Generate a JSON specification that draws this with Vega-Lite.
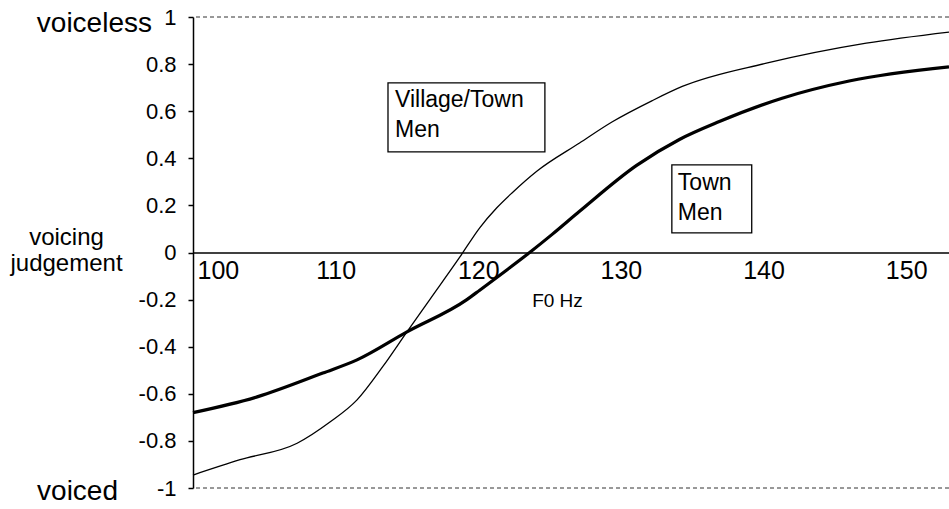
{
  "$schema": "https://vega.github.io/schema/vega-lite/v6.json",
  "width": 756,
  "height": 471,
  "autosize": "none",
  "padding": {"left": 193, "top": 17, "right": 0, "bottom": 21},
  "background": "white",
  "config": {"view": {"stroke": null}, "font": "Liberation Sans"},
  "datasets": {
    "curves": [
      {"series": "Town Men", "F0": 100, "v": -0.68},
      {"series": "Town Men", "F0": 104.5, "v": -0.613},
      {"series": "Town Men", "F0": 109.1, "v": -0.512},
      {"series": "Town Men", "F0": 111.5, "v": -0.456},
      {"series": "Town Men", "F0": 115, "v": -0.337},
      {"series": "Town Men", "F0": 119.2, "v": -0.2},
      {"series": "Town Men", "F0": 120.1, "v": -0.16},
      {"series": "Town Men", "F0": 122, "v": -0.074},
      {"series": "Town Men", "F0": 123.6, "v": 0},
      {"series": "Town Men", "F0": 125.2, "v": 0.078},
      {"series": "Town Men", "F0": 127.1, "v": 0.175},
      {"series": "Town Men", "F0": 131.1, "v": 0.37},
      {"series": "Town Men", "F0": 134.1, "v": 0.48},
      {"series": "Town Men", "F0": 136.9, "v": 0.556},
      {"series": "Town Men", "F0": 141.3, "v": 0.655},
      {"series": "Town Men", "F0": 146, "v": 0.728},
      {"series": "Town Men", "F0": 153, "v": 0.788},
      {"series": "Village/Town Men", "F0": 100, "v": -0.945},
      {"series": "Village/Town Men", "F0": 103.3, "v": -0.88},
      {"series": "Village/Town Men", "F0": 107.3, "v": -0.81},
      {"series": "Village/Town Men", "F0": 109.6, "v": -0.72},
      {"series": "Village/Town Men", "F0": 111.5, "v": -0.626},
      {"series": "Village/Town Men", "F0": 113.3, "v": -0.485},
      {"series": "Village/Town Men", "F0": 115, "v": -0.337},
      {"series": "Village/Town Men", "F0": 116.6, "v": -0.2},
      {"series": "Village/Town Men", "F0": 118.7, "v": -0.02},
      {"series": "Village/Town Men", "F0": 120.1, "v": 0.105},
      {"series": "Village/Town Men", "F0": 121.3, "v": 0.19},
      {"series": "Village/Town Men", "F0": 122.4, "v": 0.255},
      {"series": "Village/Town Men", "F0": 124.1, "v": 0.345},
      {"series": "Village/Town Men", "F0": 127.1, "v": 0.465},
      {"series": "Village/Town Men", "F0": 129.4, "v": 0.555},
      {"series": "Village/Town Men", "F0": 132.2, "v": 0.645},
      {"series": "Village/Town Men", "F0": 134.3, "v": 0.705},
      {"series": "Village/Town Men", "F0": 140.2, "v": 0.804},
      {"series": "Village/Town Men", "F0": 147.2, "v": 0.889},
      {"series": "Village/Town Men", "F0": 153, "v": 0.936}
    ],
    "bounds": [{"v": 1}, {"v": -1}],
    "boxes": [
      {"label": "Village/Town\nMen", "x1": 113.67, "x2": 124.67, "y1": 0.72, "y2": 0.427, "tx": 114.16, "ty": 0.618},
      {"label": "Town\nMen", "x1": 133.57, "x2": 139.17, "y1": 0.372, "y2": 0.083, "tx": 133.99, "ty": 0.265}
    ],
    "ends": [
      {"label": "voiceless", "F0": 100, "v": 1},
      {"label": "voiced", "F0": 100, "v": -1}
    ]
  },
  "layer": [
    {
      "data": {"name": "bounds"},
      "mark": {"type": "rule", "stroke": "#333", "strokeWidth": 1, "strokeDash": [4, 3]},
      "encoding": {
        "y": {"field": "v", "type": "quantitative"}
      }
    },
    {
      "data": {"name": "curves"},
      "mark": {"type": "line", "interpolate": "monotone", "color": "black"},
      "encoding": {
        "x": {
          "field": "F0", "type": "quantitative",
          "scale": {"domain": [100, 153], "nice": false, "zero": false},
          "axis": {
            "orient": "bottom",
            "offset": -235.5,
            "values": [100, 110, 120, 130, 140, 150],
            "domainColor": "black",
            "domainWidth": 1.5,
            "ticks": false,
            "grid": false,
            "labelFontSize": 25,
            "labelColor": "black",
            "labelPadding": 6,
            "labelAlign": {"condition": {"test": "datum.value == 100", "value": "left"}, "value": "center"},
            "labelOffset": {"condition": {"test": "datum.value == 100", "value": 4}, "value": 0},
            "title": "F0 Hz",
            "titleFontSize": 19,
            "titleFontWeight": "normal",
            "titleColor": "black",
            "titleX": 364,
            "titleY": 54,
            "titleAlign": "center",
            "titleBaseline": "alphabetic"
          }
        },
        "y": {
          "field": "v", "type": "quantitative",
          "scale": {"domain": [-1, 1], "nice": false},
          "axis": {
            "values": [-1, -0.8, -0.6, -0.4, -0.2, 0, 0.2, 0.4, 0.6, 0.8, 1],
            "labelExpr": "'' + datum.value",
            "domainColor": "black",
            "domainWidth": 1.5,
            "tickColor": "black",
            "tickSize": 5,
            "tickWidth": 1.5,
            "grid": false,
            "labelFontSize": 22,
            "labelColor": "black",
            "labelPadding": 12,
            "title": ["voicing", "judgement"],
            "titleAngle": 0,
            "titleFontSize": 24,
            "titleFontWeight": "normal",
            "titleColor": "black",
            "titleX": -127,
            "titleY": 227,
            "titleAlign": "center",
            "titleBaseline": "alphabetic",
            "titleLineHeight": 26
          }
        },
        "detail": {"field": "series"},
        "strokeWidth": {
          "field": "series", "type": "nominal",
          "scale": {"domain": ["Town Men", "Village/Town Men"], "range": [3.2, 1.3]},
          "legend": null
        }
      }
    },
    {
      "data": {"name": "boxes"},
      "mark": {"type": "rect", "fill": "white", "stroke": "black", "strokeWidth": 1.3},
      "encoding": {
        "x": {"field": "x1", "type": "quantitative"},
        "x2": {"field": "x2"},
        "y": {"field": "y1", "type": "quantitative"},
        "y2": {"field": "y2"}
      }
    },
    {
      "data": {"name": "boxes"},
      "mark": {"type": "text", "align": "left", "baseline": "alphabetic", "fontSize": 23, "lineBreak": "\n", "lineHeight": 30, "color": "black"},
      "encoding": {
        "x": {"field": "tx", "type": "quantitative"},
        "y": {"field": "ty", "type": "quantitative"},
        "text": {"field": "label"}
      }
    },
    {
      "data": {"name": "ends"},
      "transform": [{"filter": "datum.label == 'voiceless'"}],
      "mark": {"type": "text", "align": "right", "baseline": "alphabetic", "fontSize": 28, "color": "black", "dx": -41, "dy": 15},
      "encoding": {
        "x": {"field": "F0", "type": "quantitative"},
        "y": {"field": "v", "type": "quantitative"},
        "text": {"field": "label"}
      }
    },
    {
      "data": {"name": "ends"},
      "transform": [{"filter": "datum.label == 'voiced'"}],
      "mark": {"type": "text", "align": "right", "baseline": "alphabetic", "fontSize": 28, "color": "black", "dx": -75, "dy": 12},
      "encoding": {
        "x": {"field": "F0", "type": "quantitative"},
        "y": {"field": "v", "type": "quantitative"},
        "text": {"field": "label"}
      }
    }
  ]
}
